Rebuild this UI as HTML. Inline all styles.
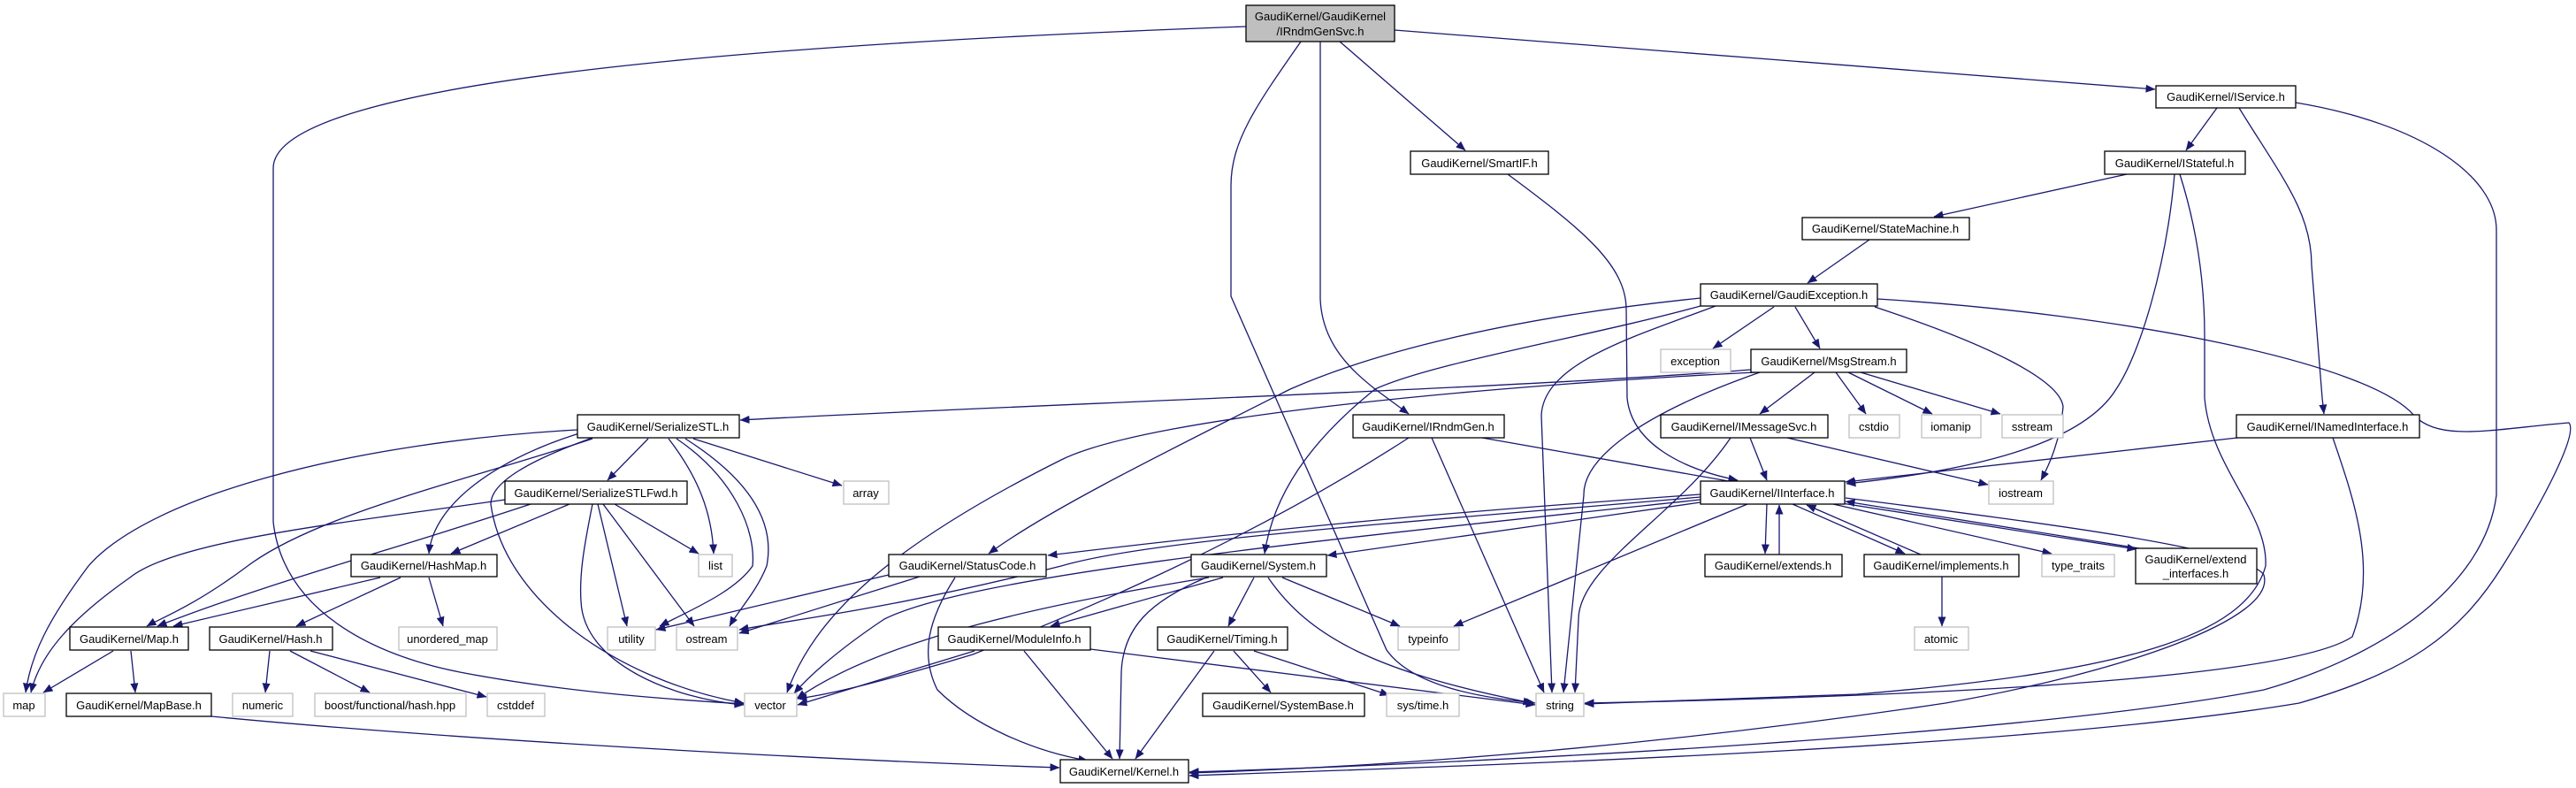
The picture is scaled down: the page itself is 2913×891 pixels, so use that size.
<!DOCTYPE html>
<html><head><meta charset="utf-8"><style>
html,body{margin:0;padding:0;background:#fff;}
svg{display:block;}
text{font-family:"Liberation Sans",Arial,sans-serif;font-size:13px;fill:#000;}
.e{fill:none;stroke:#191970;stroke-width:1.3;}
.n{fill:#fff;stroke:#000;stroke-width:1.3;}
.g{fill:#fff;stroke:#bfbfbf;stroke-width:1.3;}
</style></head><body>
<svg width="2913" height="891" viewBox="0 0 2913 891" xmlns="http://www.w3.org/2000/svg">
<defs><marker id="a" markerWidth="11" markerHeight="9" refX="10.5" refY="4.5" orient="auto" markerUnits="userSpaceOnUse"><path d="M0,0 L11,4.5 L0,9 z" fill="#191970"/></marker></defs>
<g class="e" marker-end="url(#a)">
<path d="M1409,30 C1000,45 309,80 309,190 L309,590 C320,690 420,740 520,760 C650,785 780,792 841,796"/>
<path d="M1471,47 C1420,120 1392,160 1392,210 L1392,335 L1568,735 C1600,780 1690,790 1736,795"/>
<path d="M1515,47 L1657,170"/>
<path d="M1493,47 L1493,338 C1495,390 1530,420 1555,440 L1593,468"/>
<path d="M1577,34 L2437,101"/>
<path d="M1705,197 C1790,260 1839,300 1839,350 L1840,450 C1845,500 1900,530 1965,543"/>
<path d="M2507,122 L2472,170"/>
<path d="M2532,122 C2580,200 2614,240 2614,300 L2626,450 L2628,468"/>
<path d="M2596,116 C2740,140 2823,200 2823,260 L2823,560 C2810,660 2700,740 2560,780 C2300,830 1700,862 1345,873"/>
<path d="M2405,197 L2187,245"/>
<path d="M2459,197 C2450,300 2420,400 2393,440 C2350,510 2200,535 2088,547"/>
<path d="M2465,197 C2485,260 2493,320 2493,380 L2493,450 C2500,530 2565,580 2562,640 C2540,720 2400,760 2100,785 L1792,796"/>
<path d="M2638,495 C2660,560 2690,640 2660,720 C2600,760 2300,785 1792,795"/>
<path d="M2114,271 L2044,320"/>
<path d="M1923,337 C1700,360 1550,400 1459,440 C1300,520 1180,580 1118,626"/>
<path d="M1923,346 C1800,380 1620,410 1555,440 C1480,500 1440,560 1430,626"/>
<path d="M1940,346 C1850,380 1745,410 1743,470 L1755,783"/>
<path d="M2006,347 L1937,394"/>
<path d="M2030,347 L2058,394"/>
<path d="M2120,347 C2250,390 2330,430 2333,460 C2330,500 2315,530 2308,543"/>
<path d="M2123,338 C2400,355 2680,410 2730,470 C2760,500 2820,485 2905,478 C2915,490 2880,560 2830,640 C2780,720 2720,760 2600,795 C2300,845 1700,865 1345,877"/>
<path d="M1980,418 C1700,440 1100,460 837,475"/>
<path d="M1985,421 C1700,435 1300,470 1200,520 C1000,620 920,700 890,783"/>
<path d="M2052,421 L1990,468"/>
<path d="M2076,421 L2110,468"/>
<path d="M2090,421 L2185,468"/>
<path d="M2104,421 L2262,468"/>
<path d="M1990,421 C1850,470 1790,520 1791,560 L1768,783"/>
<path d="M653,486 C400,500 170,560 100,640 C55,700 35,740 29,783"/>
<path d="M670,496 C540,540 360,580 280,640 C220,685 180,700 166,708"/>
<path d="M655,490 C560,520 490,570 485,626"/>
<path d="M670,495 C600,520 555,545 555,570 C570,680 700,770 841,795"/>
<path d="M733,496 L687,543"/>
<path d="M756,496 C790,540 805,580 807,626"/>
<path d="M765,496 C830,540 855,600 851,640 C830,670 780,690 746,708"/>
<path d="M775,496 C860,550 875,600 867,640 C855,670 835,690 825,708"/>
<path d="M784,496 L952,549"/>
<path d="M571,565 C400,590 200,610 147,653 C80,700 45,740 35,783"/>
<path d="M600,570 C450,620 300,660 178,708"/>
<path d="M644,570 L510,626"/>
<path d="M670,570 C660,620 655,650 657,680 C660,750 760,790 841,797"/>
<path d="M676,570 L709,708"/>
<path d="M682,570 L785,708"/>
<path d="M695,570 L790,626"/>
<path d="M430,653 L196,708"/>
<path d="M453,653 L335,708"/>
<path d="M485,653 L501,708"/>
<path d="M128,736 L49,783"/>
<path d="M148,736 L153,783"/>
<path d="M305,736 L300,783"/>
<path d="M328,736 L418,783"/>
<path d="M351,736 L550,788"/>
<path d="M239,810 C500,835 900,858 1198,868"/>
<path d="M1676,495 L1966,546"/>
<path d="M1619,495 L1746,783"/>
<path d="M1593,495 C1400,620 1200,700 1100,740 C1000,770 940,785 902,790"/>
<path d="M1979,495 L1998,543"/>
<path d="M1957,495 C1900,580 1785,640 1785,700 L1781,783"/>
<path d="M2021,495 L2248,548"/>
<path d="M2530,495 L2087,545"/>
<path d="M1923,559 C1700,575 1500,590 1185,628"/>
<path d="M1923,568 L1501,628"/>
<path d="M1976,570 L1644,708"/>
<path d="M1998,570 L1996,626"/>
<path d="M2012,627 L2012,571"/>
<path d="M2027,570 L2154,626"/>
<path d="M2172,627 L2043,571"/>
<path d="M2073,570 L2320,626"/>
<path d="M2076,568 L2416,621"/>
<path d="M2419,620 L2087,567"/>
<path d="M2087,563 C2300,590 2540,620 2560,650 C2575,700 2400,760 2200,795 C1900,840 1600,866 1345,874"/>
<path d="M1923,562 C1600,590 1300,610 1200,640 C1000,690 900,700 836,712"/>
<path d="M1923,565 C1500,610 1100,650 1000,700 C940,740 910,770 898,784"/>
<path d="M1005,650 L742,712"/>
<path d="M1040,652 L836,716"/>
<path d="M1080,653 C1050,700 1040,740 1060,780 C1100,820 1170,850 1230,860"/>
<path d="M1383,653 L1188,708"/>
<path d="M1418,653 L1389,708"/>
<path d="M1450,653 L1583,708"/>
<path d="M1434,653 C1480,720 1555,760 1733,795"/>
<path d="M1364,653 C1300,680 1270,710 1268,760 L1266,858"/>
<path d="M1367,653 C1200,680 1000,720 901,790"/>
<path d="M1158,736 L1258,858"/>
<path d="M1233,734 L1736,797"/>
<path d="M1102,736 L902,797"/>
<path d="M1395,736 L1437,783"/>
<path d="M1418,736 L1571,786"/>
<path d="M1373,736 L1284,858"/>
<path d="M2196,652 L2196,708"/>
</g>
<g text-anchor="middle">
<rect x="1409" y="6" width="168" height="41" fill="#bfbfbf" stroke="#000" stroke-width="1.3"/><text x="1493" y="23">GaudiKernel/GaudiKernel</text><text x="1493" y="40">/IRndmGenSvc.h</text>
<rect class="n" x="1595" y="171" width="156" height="26"/><text x="1673" y="189">GaudiKernel/SmartIF.h</text>
<rect class="n" x="2438" y="97" width="158" height="25"/><text x="2517" y="114">GaudiKernel/IService.h</text>
<rect class="n" x="2380" y="171" width="159" height="26"/><text x="2459" y="189">GaudiKernel/IStateful.h</text>
<rect class="n" x="2038" y="246" width="189" height="25"/><text x="2132" y="263">GaudiKernel/StateMachine.h</text>
<rect class="n" x="1923" y="321" width="200" height="25"/><text x="2023" y="338">GaudiKernel/GaudiException.h</text>
<rect class="g" x="1878" y="395" width="79" height="26"/><text x="1917" y="413">exception</text>
<rect class="n" x="1980" y="395" width="176" height="26"/><text x="2068" y="413">GaudiKernel/MsgStream.h</text>
<rect class="n" x="653" y="469" width="183" height="26"/><text x="744" y="487">GaudiKernel/SerializeSTL.h</text>
<rect class="g" x="954" y="544" width="51" height="26"/><text x="979" y="562">array</text>
<rect class="n" x="1530" y="469" width="171" height="26"/><text x="1615" y="487">GaudiKernel/IRndmGen.h</text>
<rect class="n" x="1878" y="469" width="189" height="26"/><text x="1972" y="487">GaudiKernel/IMessageSvc.h</text>
<rect class="g" x="2091" y="469" width="57" height="26"/><text x="2119" y="487">cstdio</text>
<rect class="g" x="2173" y="469" width="67" height="26"/><text x="2206" y="487">iomanip</text>
<rect class="g" x="2264" y="469" width="69" height="26"/><text x="2298" y="487">sstream</text>
<rect class="n" x="2529" y="469" width="207" height="26"/><text x="2632" y="487">GaudiKernel/INamedInterface.h</text>
<rect class="n" x="571" y="544" width="206" height="26"/><text x="674" y="562">GaudiKernel/SerializeSTLFwd.h</text>
<rect class="n" x="1923" y="544" width="163" height="26"/><text x="2004" y="562">GaudiKernel/IInterface.h</text>
<rect class="g" x="2249" y="544" width="73" height="26"/><text x="2285" y="562">iostream</text>
<rect class="n" x="397" y="627" width="165" height="25"/><text x="479" y="644">GaudiKernel/HashMap.h</text>
<rect class="g" x="790" y="627" width="38" height="25"/><text x="809" y="644">list</text>
<rect class="n" x="1005" y="627" width="178" height="25"/><text x="1094" y="644">GaudiKernel/StatusCode.h</text>
<rect class="n" x="1347" y="627" width="153" height="25"/><text x="1423" y="644">GaudiKernel/System.h</text>
<rect class="n" x="1928" y="627" width="155" height="25"/><text x="2005" y="644">GaudiKernel/extends.h</text>
<rect class="n" x="2108" y="627" width="175" height="25"/><text x="2195" y="644">GaudiKernel/implements.h</text>
<rect class="g" x="2309" y="627" width="82" height="25"/><text x="2350" y="644">type_traits</text>
<rect class="n" x="2415" y="620" width="137" height="40"/><text x="2483" y="637">GaudiKernel/extend</text><text x="2483" y="653">_interfaces.h</text>
<rect class="n" x="79" y="709" width="134" height="26"/><text x="146" y="727">GaudiKernel/Map.h</text>
<rect class="n" x="237" y="709" width="139" height="26"/><text x="306" y="727">GaudiKernel/Hash.h</text>
<rect class="g" x="451" y="709" width="111" height="26"/><text x="506" y="727">unordered_map</text>
<rect class="g" x="687" y="709" width="54" height="26"/><text x="714" y="727">utility</text>
<rect class="g" x="765" y="709" width="69" height="26"/><text x="799" y="727">ostream</text>
<rect class="n" x="1061" y="709" width="172" height="26"/><text x="1147" y="727">GaudiKernel/ModuleInfo.h</text>
<rect class="n" x="1309" y="709" width="147" height="26"/><text x="1382" y="727">GaudiKernel/Timing.h</text>
<rect class="g" x="1581" y="709" width="69" height="26"/><text x="1615" y="727">typeinfo</text>
<rect class="g" x="2165" y="709" width="61" height="26"/><text x="2195" y="727">atomic</text>
<rect class="g" x="4" y="784" width="47" height="26"/><text x="27" y="802">map</text>
<rect class="n" x="75" y="784" width="164" height="26"/><text x="157" y="802">GaudiKernel/MapBase.h</text>
<rect class="g" x="263" y="784" width="68" height="26"/><text x="297" y="802">numeric</text>
<rect class="g" x="356" y="784" width="171" height="26"/><text x="441" y="802">boost/functional/hash.hpp</text>
<rect class="g" x="551" y="784" width="65" height="26"/><text x="583" y="802">cstddef</text>
<rect class="g" x="842" y="784" width="59" height="26"/><text x="871" y="802">vector</text>
<rect class="n" x="1360" y="784" width="183" height="26"/><text x="1451" y="802">GaudiKernel/SystemBase.h</text>
<rect class="g" x="1568" y="784" width="82" height="26"/><text x="1609" y="802">sys/time.h</text>
<rect class="g" x="1737" y="784" width="54" height="26"/><text x="1764" y="802">string</text>
<rect class="n" x="1199" y="859" width="145" height="26"/><text x="1271" y="877">GaudiKernel/Kernel.h</text>
</g>
</svg>
</body></html>
